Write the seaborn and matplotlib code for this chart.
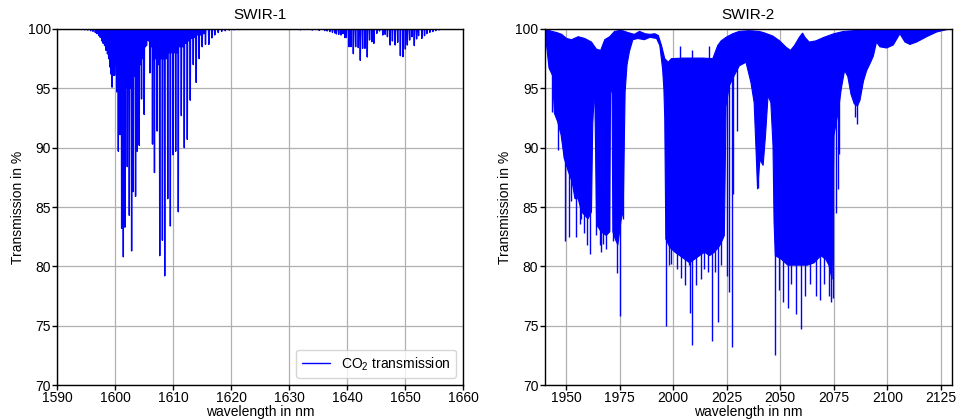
"""
CO2 transmission in the two SWIR bands (line-by-line spectrum, read off the figure).
"""

import numpy as np
import pandas as pd
import matplotlib
matplotlib.use("Agg")
import matplotlib.pyplot as plt
import seaborn as sns

# --- SWIR-1: line centres (nm) and transmission at the line core (%) ---
swir1_nm = [1593.5, 1594.2, 1594.8, 1595.3, 1595.8, 1596.2, 1596.6, 1596.9, 1597.2, 1597.45,
            1597.7, 1597.95, 1598.2, 1598.45, 1598.7, 1598.9, 1599.1, 1599.3, 1599.49, 1599.71,
            1599.94, 1600.12, 1600.29, 1600.43, 1600.57, 1600.72, 1600.86, 1601.0, 1601.14, 1601.28,
            1601.43, 1601.57, 1601.71, 1601.9, 1602.11, 1602.28, 1602.46, 1602.66, 1602.86, 1603.0,
            1603.14, 1603.34, 1603.54, 1603.68, 1603.83, 1604.0, 1604.17, 1604.37, 1604.57, 1604.8,
            1605.03, 1605.23, 1605.43, 1605.75, 1606.0, 1606.23, 1606.46, 1606.63, 1606.8, 1607.03,
            1607.26, 1607.48, 1607.71, 1607.94, 1608.17, 1608.37, 1608.57, 1608.83, 1609.09, 1609.31,
            1609.54, 1609.77, 1610.0, 1610.23, 1610.46, 1610.68, 1610.91, 1611.17, 1611.43, 1611.68,
            1611.94, 1612.2, 1612.46, 1612.72, 1612.97, 1613.23, 1613.49, 1613.75, 1614.0, 1614.25,
            1614.51, 1614.75, 1615.03, 1615.3, 1615.6, 1616.17, 1616.69, 1617.2, 1617.8, 1618.4,
            1619.0, 1619.7, 1620.5, 1621.5, 1622.5, 1624.0, 1627.0, 1630.0, 1632.0, 1634.0,
            1635.2, 1636.17, 1636.57, 1637.03, 1637.49, 1637.89, 1638.17, 1638.57, 1638.97, 1639.31,
            1639.66, 1639.89, 1640.34, 1640.69, 1641.09, 1641.49, 1641.94, 1642.29, 1642.69, 1643.09,
            1643.49, 1643.89, 1644.29, 1644.63, 1645.14, 1645.6, 1646.17, 1646.57, 1646.97, 1647.43,
            1647.83, 1648.29, 1648.74, 1649.2, 1649.66, 1650.06, 1650.4, 1650.8, 1651.2, 1651.6,
            1652.0, 1652.34, 1652.91, 1653.37, 1653.77, 1654.29, 1654.8, 1655.31, 1655.89, 1657.0]
swir1_min = [99.97, 99.95, 99.93, 99.9, 99.85, 99.8, 99.7, 99.6, 99.45, 99.3,
             99.0, 98.8, 98.6, 98.2, 97.9, 97.5, 96.8, 96.2, 95.1, 96.1,
             96.1, 97.0, 94.7, 96.5, 89.7, 95.5, 91.1, 95.0, 83.2, 94.5,
             80.8, 94.5, 83.3, 95.0, 88.4, 95.0, 84.3, 95.0, 81.3, 95.5,
             86.3, 96.0, 85.9, 96.0, 89.7, 96.5, 90.2, 97.0, 94.1, 97.5,
             92.8, 98.5, 98.6, 99.0, 96.3, 98.5, 90.3, 97.5, 87.9, 97.5,
             91.4, 97.0, 80.9, 97.5, 82.2, 97.5, 79.2, 97.5, 85.7, 98.0,
             83.4, 98.0, 89.4, 98.0, 89.7, 98.0, 84.6, 98.5, 92.7, 98.5,
             90.0, 98.8, 90.7, 99.0, 94.0, 99.2, 97.0, 99.3, 95.5, 99.5,
             97.5, 99.5, 98.5, 99.6, 98.7, 98.7, 99.25, 99.5, 99.7, 99.8,
             99.85, 99.9, 99.93, 99.95, 99.96, 99.97, 99.97, 99.95, 99.93, 99.9,
             99.88, 99.86, 99.83, 99.78, 99.72, 99.66, 99.58, 99.55, 99.49, 99.61,
             99.27, 99.3, 98.51, 98.51, 97.92, 98.51, 98.43, 97.36, 98.37, 98.37,
             97.64, 99.07, 98.93, 98.79, 99.63, 99.83, 99.49, 99.55, 99.35, 98.65,
             98.99, 98.65, 98.88, 97.75, 97.67, 98.31, 98.65, 99.07, 99.35, 98.6,
             99.16, 99.44, 99.21, 99.44, 99.61, 99.72, 99.78, 99.86, 99.92, 99.97]

# --- SWIR-2: upper and lower edge of the dense line forest ---
swir2_top_nm = [1940.0, 1941.8, 1943.4, 1945.7, 1948.0, 1950.3, 1952.6, 1955.7, 1958.8, 1961.9,
                1964.2, 1966.2, 1968.1, 1970.4, 1972.7, 1975.8, 1978.9, 1981.9, 1984.3, 1987.0,
                1989.2, 1991.5, 1993.1, 1994.6, 1996.1, 1997.7, 1999.2, 2004.6, 2013.9, 2018.5,
                2020.8, 2022.4, 2024.7, 2027.8, 2030.9, 2035.5, 2040.1, 2042.8, 2046.6, 2049.7,
                2052.8, 2054.8, 2056.6, 2058.9, 2060.4, 2061.5, 2063.5, 2066.6, 2070.4, 2075.0,
                2079.6, 2084.2, 2090.3, 2098.0, 2106.0, 2115.0, 2123.0, 2130.0]
swir2_top = [100.0, 99.9, 99.8, 99.7, 99.55, 99.2, 99.1, 99.35, 99.2, 98.9,
             98.3, 98.2, 99.1, 99.35, 99.8, 99.9, 99.7, 99.55, 99.8, 99.6,
             99.55, 99.6, 99.45, 98.6, 97.5, 97.2, 97.5, 97.55, 97.55, 97.5,
             98.6, 99.0, 99.3, 99.6, 99.8, 99.86, 99.8, 99.66, 99.4, 99.0,
             98.45, 98.2, 98.6, 99.3, 99.66, 99.3, 98.9, 99.0, 99.3, 99.6,
             99.8, 99.86, 99.9, 99.93, 99.95, 99.97, 99.98, 100.0]

swir2_bot_nm = [1940.0, 1940.6, 1942.1, 1943.7, 1944.6, 1946.1, 1947.7, 1949.2, 1951.1, 1952.9,
                1954.2, 1955.7, 1957.3, 1958.8, 1960.3, 1961.9, 1962.5, 1963.4, 1964.3, 1966.5,
                1968.8, 1970.4, 1970.8, 1971.5, 1971.9, 1973.0, 1974.2, 1975.8, 1976.7, 1977.6,
                1978.5, 1979.6, 1981.2, 1983.5, 1986.6, 1989.2, 1992.3, 1993.8, 1995.1, 1995.7,
                1996.1, 1996.6, 1998.5, 2000.8, 2003.1, 2005.4, 2007.7, 2010.0, 2012.3, 2014.7,
                2017.0, 2019.3, 2021.6, 2023.2, 2023.9, 2024.7, 2026.2, 2028.6, 2030.9, 2034.0,
                2036.3, 2037.8, 2038.6, 2039.4, 2040.5, 2042.0, 2043.1, 2044.3, 2045.6, 2046.6,
                2047.1, 2047.7, 2050.5, 2053.5, 2056.6, 2059.7, 2062.7, 2065.8, 2068.9, 2071.2,
                2072.7, 2074.2, 2075.0, 2077.0, 2078.5, 2080.0, 2081.5, 2083.0, 2084.5, 2086.0,
                2087.2, 2088.8, 2090.3, 2091.9, 2093.4, 2094.9, 2096.5, 2099.6, 2102.7, 2105.8,
                2108.2, 2110.5, 2113.6, 2118.3, 2123.0, 2127.7, 2130.0]
swir2_bot = [99.5, 99.2, 96.7, 96.1, 92.9, 92.2, 91.1, 89.1, 88.0, 87.1,
             85.7, 85.7, 84.6, 84.3, 84.0, 84.6, 92.0, 95.3, 83.5, 82.9,
             82.6, 82.9, 94.7, 94.7, 82.9, 82.3, 81.8, 84.0, 84.6, 94.7,
             97.0, 98.1, 99.1, 99.2, 99.1, 99.3, 99.2, 98.6, 96.6, 94.9,
             92.4, 82.3, 81.6, 81.2, 80.9, 80.6, 80.3, 80.6, 80.9, 81.2,
             80.9, 81.2, 81.7, 82.3, 82.6, 93.5, 95.2, 96.1, 96.9, 97.2,
             95.5, 93.8, 90.2, 86.5, 89.0, 88.5, 91.0, 94.4, 93.8, 90.2,
             83.7, 80.9, 80.6, 80.1, 80.1, 80.1, 80.1, 80.3, 80.9, 80.6,
             80.1, 78.9, 91.0, 93.0, 95.0, 96.5, 96.0, 94.5, 93.7, 93.5,
             94.0, 95.6, 96.5, 97.1, 97.7, 98.9, 98.5, 98.4, 98.65, 99.6,
             98.9, 98.7, 98.9, 99.35, 99.75, 99.95, 100.0]

# --- SWIR-2: single deep lines below the forest, and a few gaps above it ---
swir2_line_nm = [1943.7, 1946.5, 1948.9, 1949.5, 1951.3, 1952.5, 1954.6, 1956.5, 1957.0, 1958.3,
                 1959.9, 1961.2, 1964.1, 1965.7, 1966.5, 1967.3, 1968.8, 1970.0, 1971.9, 1973.9,
                 1975.1, 1976.5, 1996.9, 1998.2, 1998.8, 2001.6, 2003.6, 2005.4, 2007.4, 2008.0,
                 2008.95, 2010.8, 2013.1, 2014.5, 2016.2, 2018.2, 2019.4, 2021.1, 2022.4, 2025.0,
                 2026.2, 2027.4, 2028.1, 2029.6, 2039.6, 2047.7, 2049.5, 2051.5, 2053.5, 2055.0,
                 2057.5, 2059.7, 2061.5, 2064.0, 2066.5, 2068.5, 2070.5, 2072.5, 2073.5, 2074.5,
                 2076.0, 2076.9, 2077.5, 2084.9, 2085.6]
swir2_line_min = [93.0, 89.8, 89.1, 82.1, 82.5, 85.5, 82.5, 83.6, 84.0, 82.8,
                  81.8, 81.0, 82.6, 81.8, 81.2, 81.9, 81.5, 83.0, 82.1, 79.4,
                  75.8, 84.0, 75.0, 80.1, 80.2, 79.8, 79.0, 78.4, 80.1, 76.1,
                  73.4, 78.4, 78.9, 79.8, 79.5, 73.7, 79.5, 75.3, 80.1, 79.2,
                  77.8, 73.2, 86.1, 91.4, 86.6, 72.5, 78.0, 77.0, 76.5, 78.5,
                  76.0, 74.7, 77.5, 78.5, 77.5, 77.2, 78.5, 77.5, 77.0, 77.3,
                  84.5, 86.5, 89.5, 92.6, 92.0]
swir2_gap_nm = [2003.1, 2009.0, 2016.9]
swir2_gap_max = [98.6, 98.2, 98.6]

LINE_COLOR = 'blue'

sns.set_style('ticks', {'axes.grid': True, 'grid.color': '#b0b0b0',
                        'axes.edgecolor': 'black', 'xtick.color': 'black',
                        'ytick.color': 'black', 'text.color': 'black',
                        'axes.labelcolor': 'black'})
plt.rcParams['font.family'] = ['Liberation Sans', 'DejaVu Sans']
plt.rcParams['font.size'] = 10
plt.rcParams['axes.linewidth'] = 1.0
plt.rcParams['grid.linewidth'] = 0.9


def line_trace(centres, cores, x0, x1, half_width=0.06):
    """Turn line centres/core values into a spectrum polyline (100 % between lines)."""
    xs, ys = [x0], [100.0]
    for c, d in sorted(zip(centres, cores)):
        xs += [c - half_width, c, c + half_width]
        ys += [100.0, d, 100.0]
    xs.append(x1)
    ys.append(100.0)
    return pd.DataFrame({'wavelength': xs, 'transmission': ys})


def style_axis(ax, title, xlim, xticks):
    ax.set_xlim(*xlim)
    ax.set_ylim(70, 100)
    ax.set_xticks(xticks)
    ax.set_yticks(np.arange(70, 101, 5))
    ax.set_title(title, fontsize=11, pad=7)
    ax.set_xlabel('wavelength in nm', fontsize=10, labelpad=0.5)
    ax.set_ylabel('Transmission in %', fontsize=10, labelpad=2)
    ax.tick_params(axis='x', labelsize=10, length=3.5, width=1, pad=0.5)
    ax.tick_params(axis='y', labelsize=10, length=3.5, width=1, pad=1)
    for side in ['top', 'right']:
        ax.spines[side].set_visible(True)


fig = plt.figure(figsize=(9.57, 4.19), dpi=100)
ax1 = fig.add_axes([0.0596, 0.0811, 0.4242, 0.8497])
ax2 = fig.add_axes([0.569, 0.0811, 0.4255, 0.8497])

# SWIR-1
df1 = line_trace(swir1_nm, swir1_min, 1590, 1660)
sns.lineplot(data=df1, x='wavelength', y='transmission', sort=False, estimator=None,
             color=LINE_COLOR, linewidth=1.0, label='CO$_\\mathregular{2}$ transmission', ax=ax1)
style_axis(ax1, 'SWIR-1', (1590, 1660), np.arange(1590, 1661, 10))
ax1.legend(loc='lower right', fontsize=10, handlelength=2.0)

# SWIR-2: dense forest as a filled band + deep single lines
poly_x = np.r_[swir2_top_nm, swir2_bot_nm[::-1]]
poly_y = np.r_[swir2_top, swir2_bot[::-1]]
ax2.fill(poly_x, poly_y, color=LINE_COLOR, linewidth=0.8, zorder=2)
ax2.vlines(swir2_line_nm, swir2_line_min, 97.0, color=LINE_COLOR, linewidth=1.0, zorder=2)
ax2.vlines(swir2_gap_nm, 97.0, swir2_gap_max, color=LINE_COLOR, linewidth=1.0, zorder=2)
style_axis(ax2, 'SWIR-2', (1940, 2130), np.arange(1950, 2126, 25))

fig.savefig('out.png', dpi=100)
